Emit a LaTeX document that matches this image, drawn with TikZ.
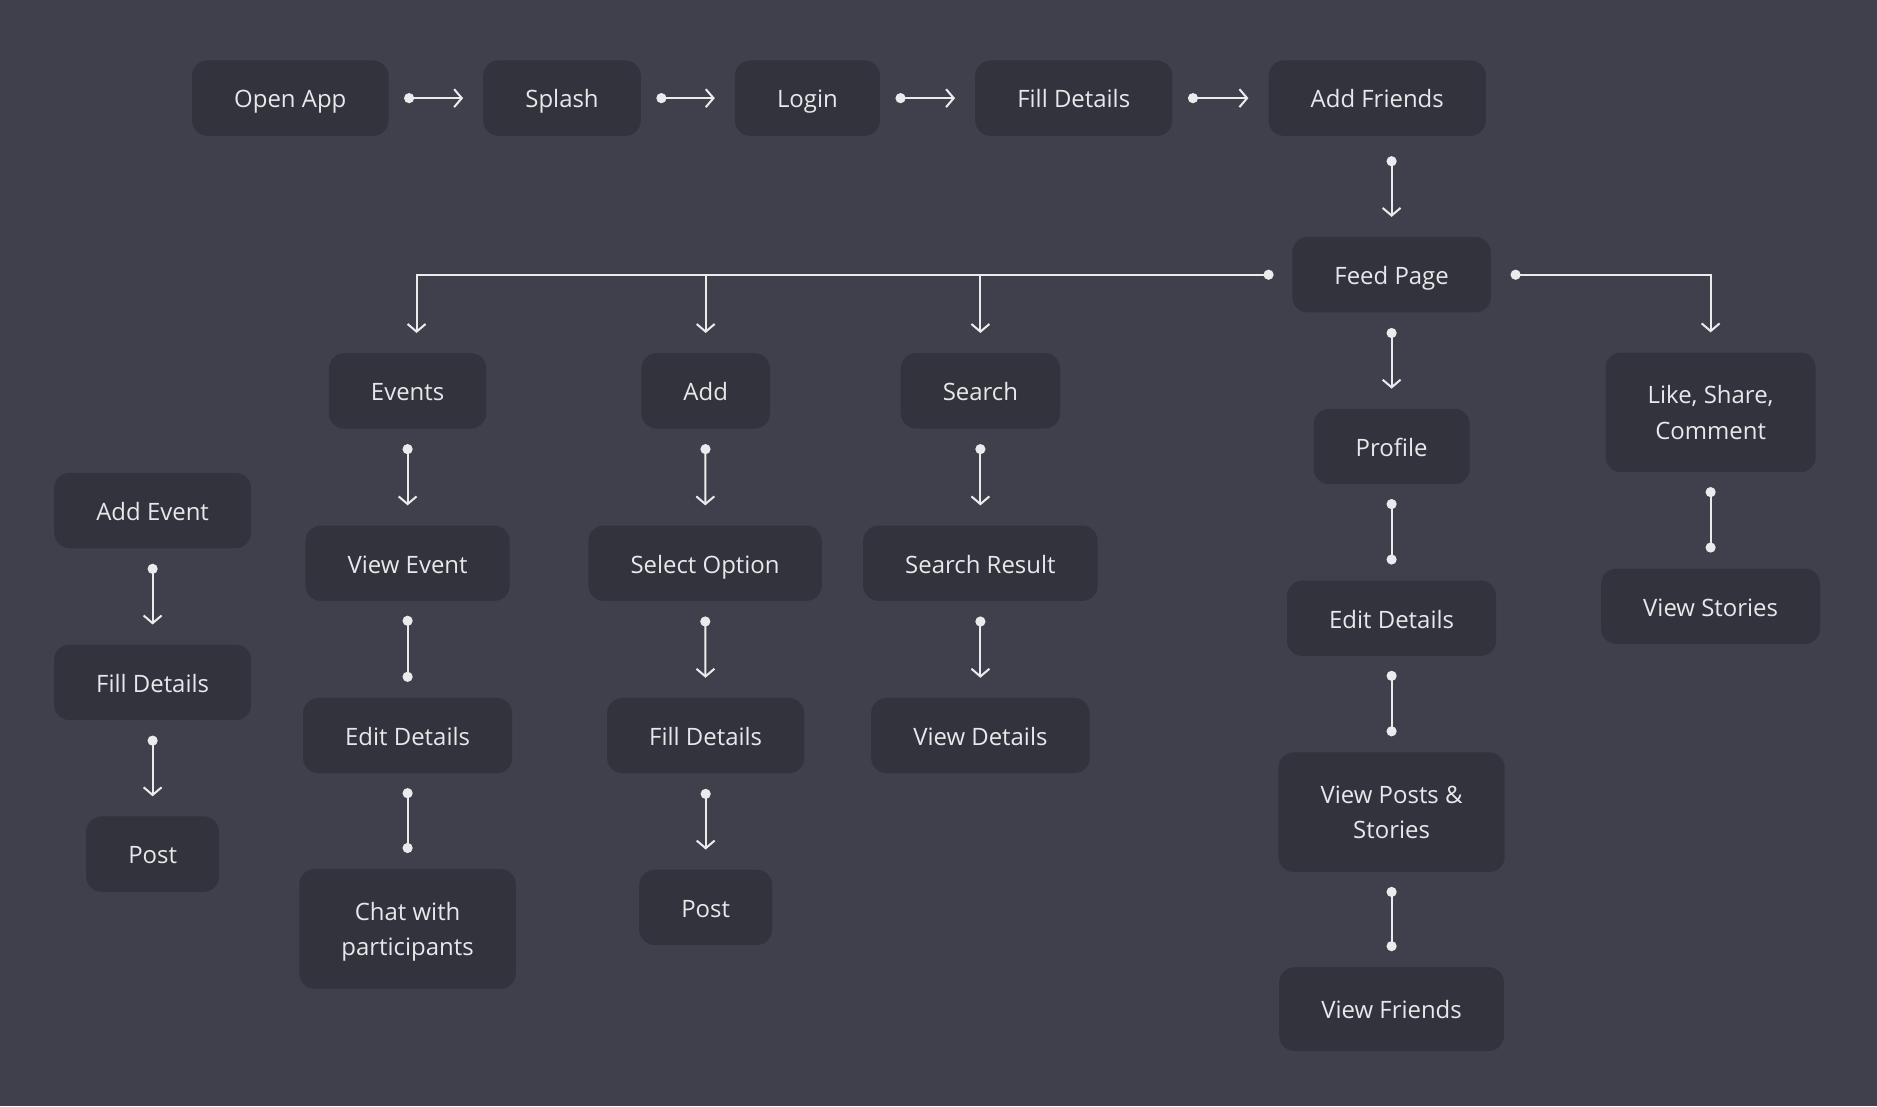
\documentclass[tikz,border=0pt]{standalone}
\usepackage{fontspec}
\setmainfont{Open Sans}
\usepackage{xcolor}
\usetikzlibrary{arrows.meta}

\definecolor{bgc}{HTML}{40404C}
\definecolor{boxc}{HTML}{33333E}
\definecolor{txtc}{HTML}{E8E8EA}
\definecolor{linec}{HTML}{EBEBED}

\tikzset{
 stepbox/.style={fill=boxc, rounded corners=6.5pt, text=txtc, align=center,
   inner xsep=17.6pt, minimum height=31.5pt, text height=9pt, text depth=0.8pt,
   font=\fontsize{10}{15}\selectfont},
 tallbox/.style={stepbox, minimum height=50pt, text height=, text depth=0pt},
 flow/.style={draw=linec, line width=0.85pt,
   {Circle[length=4.2pt]}-{Straight Barb[length=3.2pt,width=7.5pt]},
   shorten <=6.3pt, shorten >=8.2pt},
 pair/.style={draw=linec, line width=0.85pt,
   {Circle[length=4.2pt]}-{Circle[length=4.2pt]},
   shorten <=6pt, shorten >=6.5pt},
 down/.style={draw=linec, line width=0.85pt,
   -{Straight Barb[length=3.2pt,width=7.5pt]}, shorten >=8.2pt},
}

\begin{document}
\begin{tikzpicture}[x=0.5pt,y=-0.5pt]
 \fill[bgc] (0,0) rectangle (1568,924);
 \useasboundingbox (0,0) rectangle (1568,924);

 %top row:
 \node[stepbox] (openapp) at (242.5,82) {Open App};
 \node[stepbox] (splash) at (469.5,82) {Splash};
 \node[stepbox] (login) at (674.5,82) {Login};
 \node[stepbox] (filltop) at (897,82) {Fill Details};
 \node[stepbox] (addfriends) at (1150.5,82) {Add Friends};
 \node[stepbox] (feed) at (1162.5,229.5) {Feed Page};

 %branches:
 \node[stepbox] (events) at (340.5,326.5) {Events};
 \node[stepbox] (add) at (589.5,326.5) {Add};
 \node[stepbox] (search) at (819,326.5) {Search};
 \node[stepbox] (profile) at (1162.5,373) {Profile};
 \node[tallbox] (like) at (1429,344.5) {Like, Share,\\Comment};

 %events column:
 \node[stepbox] (addevent) at (127.5,426.5) {Add Event};
 \node[stepbox] (fillleft) at (127.5,570) {Fill Details};
 \node[stepbox] (postleft) at (127.5,713.5) {Post};
 \node[stepbox] (viewevent) at (340.5,470.5) {View Event};
 \node[stepbox] (editev) at (340.5,614.5) {Edit Details};
 \node[tallbox] (chat) at (340.5,776) {Chat with\\participants};

 %add column:
 \node[stepbox] (select) at (589,470.5) {Select Option};
 \node[stepbox] (filladd) at (589.5,614.5) {Fill Details};
 \node[stepbox] (postadd) at (589.5,758) {Post};

 %search column:
 \node[stepbox] (result) at (819,470.5) {Search Result};
 \node[stepbox] (viewdetails) at (819,614.5) {View Details};

 %profile column:
 \node[stepbox] (editright) at (1162.5,516.5) {Edit Details};
 \node[tallbox] (posts) at (1162.5,678.5) {View Posts \&\\Stories};
 \node[stepbox, minimum height=35pt] (friends) at (1162.5,843) {View Friends};
 \node[stepbox] (viewstories) at (1429,506.5) {View Stories};

 %connectors:
 \draw[flow] (openapp) -- (splash);
 \draw[flow] (splash) -- (login);
 \draw[flow] (login) -- (filltop);
 \draw[flow] (filltop) -- (addfriends);
 \draw[flow, shorten <=8.3pt] (feed.north |- addfriends.south) -- (feed.north);

 \draw[flow, shorten <=7.6pt] (feed.west) -| ([xshift=3.75pt]events.north);
 \draw[down] (add.north |- feed.west) -- (add.north);
 \draw[down] (search.north |- feed.west) -- (search.north);
 \draw[flow, shorten <=8pt] (feed.east) -| (like.north);
 \draw[flow] (feed) -- (profile);

 \draw[flow] (addevent) -- (fillleft);
 \draw[flow] (fillleft) -- (postleft);
 \draw[flow] (events) -- (viewevent);
 \draw[pair] (viewevent) -- (editev);
 \draw[pair] (editev) -- (chat);
 \draw[flow] (add) -- (select);
 \draw[flow] (select) -- (filladd);
 \draw[flow] (filladd) -- (postadd);
 \draw[flow] (search) -- (result);
 \draw[flow] (result) -- (viewdetails);
 \draw[pair] (profile) -- (editright);
 \draw[pair] (editright) -- (posts);
 \draw[pair] (posts) -- (friends);
 \draw[pair] (like) -- (viewstories);
\end{tikzpicture}
\end{document}
